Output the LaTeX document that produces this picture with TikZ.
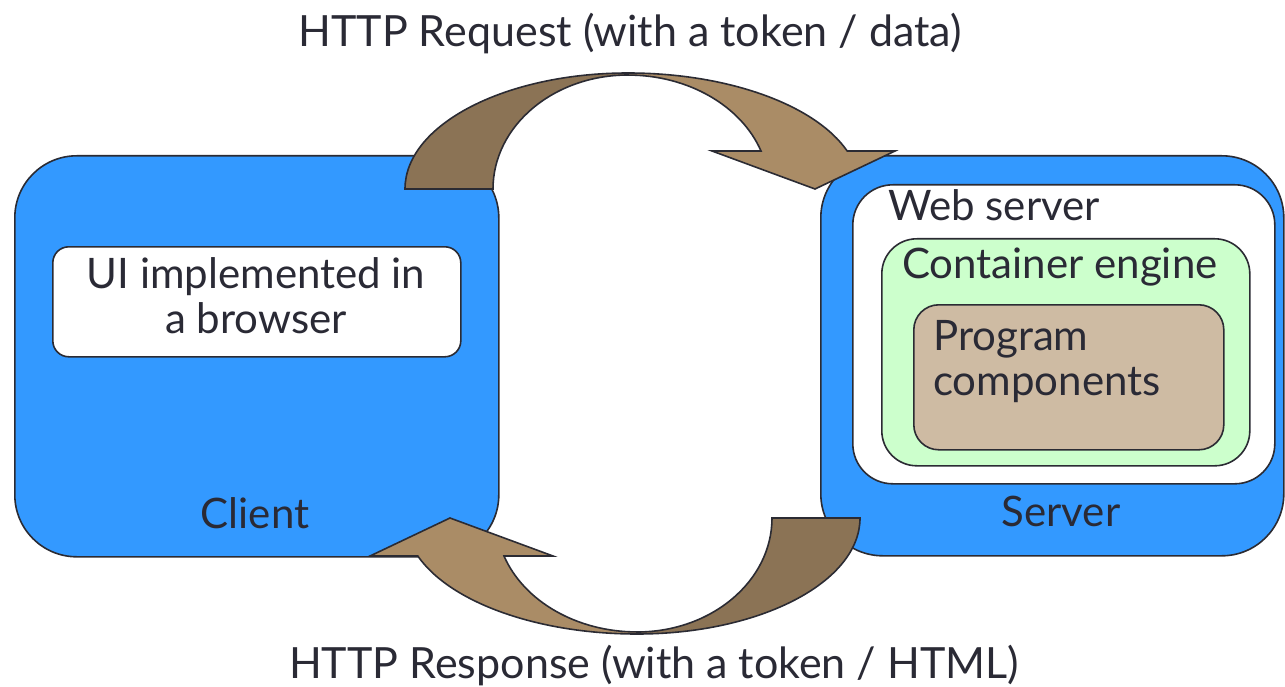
\documentclass[tikz,border=0pt]{standalone}
\usepackage{fontspec}
\setmainfont{Lato}
\definecolor{cblue}{HTML}{3399FF}
\definecolor{cgreen}{HTML}{CCFFCC}
\definecolor{cprog}{HTML}{CEBBA3}
\definecolor{cdark}{HTML}{8B7355}
\definecolor{clight}{HTML}{AA8C66}
\definecolor{edge}{HTML}{2B2B33}
\definecolor{textc}{HTML}{2A2A35}
\begin{document}
\begin{tikzpicture}[x=1pt,y=-1pt,
  box/.style={draw=edge, line width=1.6pt, anchor=north west, inner sep=0pt},
  lbl/.style={text=textc, inner sep=0pt, font=\fontsize{42}{45}\selectfont},
  biglbl/.style={lbl, font=\fontsize{43}{45}\selectfont},
  arrowpart/.style={draw=edge, line width=1.6pt, line join=miter}]
\useasboundingbox (0,0) rectangle (1285,687);
% boxes
\node[box, fill=cblue, rounded corners=62pt, minimum width=484pt, minimum height=401pt] (client) at (14,155) {};
\node[box, fill=white, rounded corners=16pt, minimum width=408pt, minimum height=110pt] (ui) at (52,246) {};
\node[box, fill=cblue, rounded corners=62pt, minimum width=463pt, minimum height=400pt] (server) at (820,155) {};
\node[box, fill=white, rounded corners=40pt, minimum width=422pt, minimum height=299pt] (web) at (852,184) {};
\node[box, fill=cgreen, rounded corners=35pt, minimum width=368pt, minimum height=227pt] (cont) at (881,238) {};
\node[box, fill=cprog, rounded corners=25pt, minimum width=310pt, minimum height=145pt] (prog) at (913,304) {};
% labels
\node[lbl, anchor=base, align=center] (uit) at (256,333) {UI implemented in\\a browser};
\node[lbl, anchor=base] (clientt) at (255,528) {Client};
\node[lbl, anchor=base] (servert) at (1061,526) {Server};
\node[lbl, anchor=base west] (webt) at (888,221) {Web server};
\node[lbl, anchor=base west] (contt) at (902,278) {Container engine};
\node[lbl, anchor=base west, align=left] (progt) at (933,395) {Program\\components};
\node[biglbl, anchor=base] (req) at (630,47) {HTTP Request (with a token / data)};
\node[biglbl, anchor=base] (resp) at (654,678) {HTTP Response (with a token / HTML)};
% arrows
\newcommand{\myarrow}{%
  \filldraw[arrowpart, fill=cdark] (405,189) arc[start angle=180, end angle=270, x radius=223, y radius=116]
     -- (628,75) arc[start angle=270, end angle=180, x radius=135, y radius=114] -- cycle;
  \filldraw[arrowpart, fill=clight] (628,73) arc[start angle=270, end angle=340.9, x radius=232, y radius=116]
     -- (895,151) -- (815,189) -- (712,151) -- (761,151)
     arc[start angle=340.5, end angle=270, x radius=141, y radius=114] -- cycle;}
\myarrow
\begin{scope}[rotate around={180:(632.5,353.5)}]
\myarrow
\end{scope}
\end{tikzpicture}
\end{document}
